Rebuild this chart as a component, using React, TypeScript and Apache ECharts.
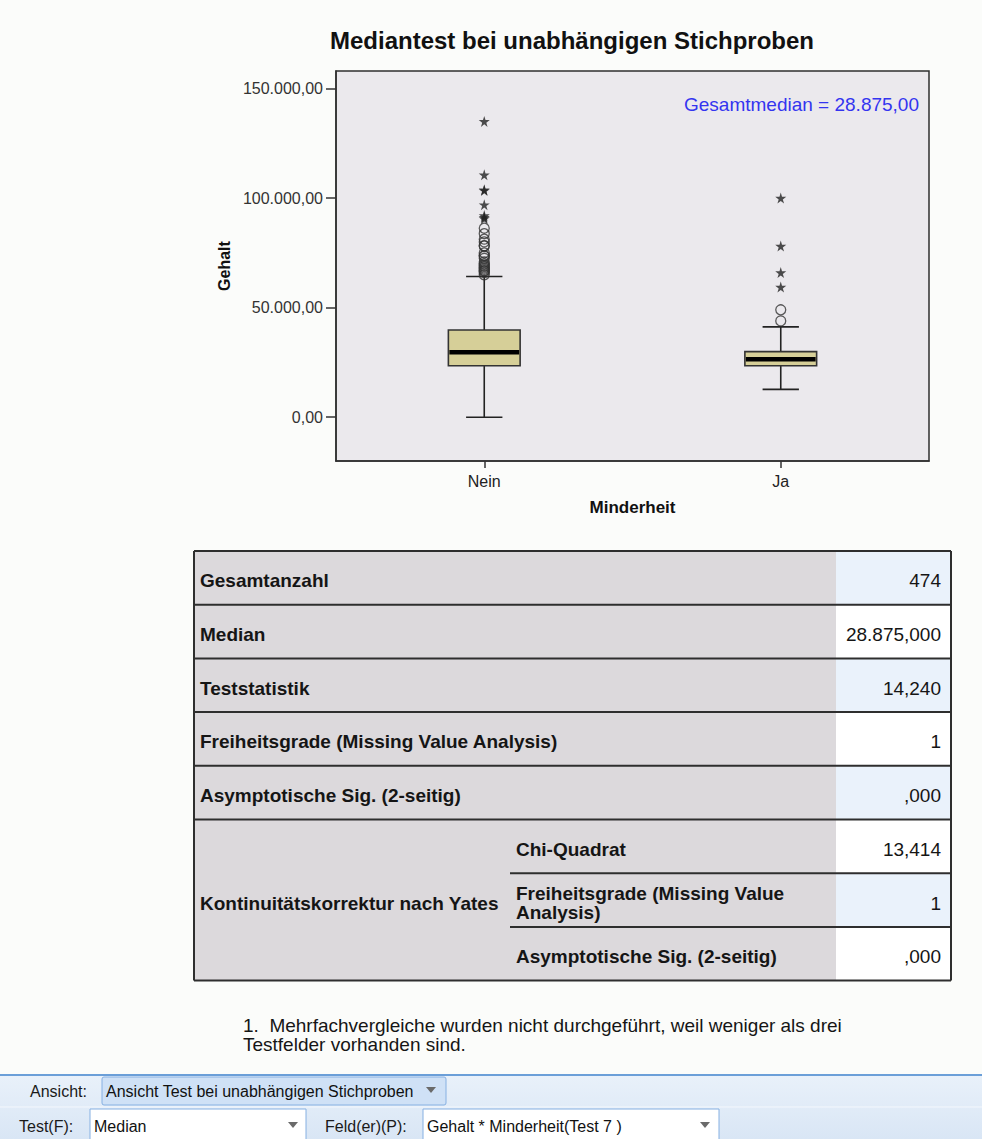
import React, { useEffect, useRef } from 'react';
import * as echarts from 'echarts';

// Box plot values per group (Gehalt by Minderheit)
const categories = ['Nein', 'Ja'];
const lowerWhisker = [0, 12700];
const quartile1 = [23500, 23500];
const medians = [29600, 26400];
const quartile3 = [39800, 29900];
const upperWhisker = [64200, 41200];

// Outliers (circles) and extreme values (stars)
const neinOutliers = [86250, 83750, 81250, 80000, 78250, 78125, 75000, 73750, 73500, 72500, 70875, 70000, 69250, 68750, 68125, 67500, 66875, 66750, 66000, 65000];
const neinExtremes = [135000, 110625, 103750, 103500, 97000, 92000, 91250, 90625];
const jaOutliers = [49000, 43950];
const jaExtremes = [100000, 78125, 66000, 59400];

const yTicks = [0, 50000, 100000, 150000];
const yMin = -20000;
const yMax = 158000;
const overallMedianLabel = 'Gesamtmedian = 28.875,00';

// Summary table
const tableLabels = ['Gesamtanzahl', 'Median', 'Teststatistik', 'Freiheitsgrade (Missing Value Analysis)', 'Asymptotische Sig. (2-seitig)'];
const tableValues = ['474', '28.875,000', '14,240', '1', ',000'];
const yatesLabel = 'Kontinuitätskorrektur nach Yates';
const yatesLabels = ['Chi-Quadrat', 'Freiheitsgrade (Missing Value\nAnalysis)', 'Asymptotische Sig. (2-seitig)'];
const yatesValues = ['13,414', '1', ',000'];
const footnoteLines = ['1.  Mehrfachvergleiche wurden nicht durchgeführt, weil weniger als drei', 'Testfelder vorhanden sind.'];

const FONT = '"Liberation Sans", Arial, Helvetica, sans-serif';
const STAR = 'path://M50,0 L61,35 L98,35 L68,57 L79,91 L50,70 L21,91 L32,57 L2,35 L39,35 Z';

const germanNumber = (v: number) =>
  Math.round(v).toString().replace(/\B(?=(\d{3})+(?!\d))/g, '.') + ',00';

function buildTable(): any[] {
  const els: any[] = [];
  const left = 194;
  const right = 951;
  const valueLeft = 836;
  const subLeft = 510;
  const top = 551;
  const rowH = 53.7;
  const lineColor = '#2e2e2e';
  const labelFill = '#dcd9dc';
  const blue = '#eaf2fb';
  const white = '#ffffff';
  const textColor = '#151515';
  const totalRows = tableLabels.length + yatesLabels.length;
  const bold = `bold 19px ${FONT}`;
  const plain = `19px ${FONT}`;

  els.push({ type: 'rect', shape: { x: left, y: top, width: valueLeft - left, height: rowH * totalRows }, style: { fill: labelFill } });
  for (let i = 0; i < totalRows; i++) {
    els.push({
      type: 'rect',
      shape: { x: valueLeft, y: top + i * rowH, width: right - valueLeft, height: rowH },
      style: { fill: i % 2 === 0 ? blue : white },
    });
  }
  tableLabels.forEach((label, i) => {
    const cy = top + i * rowH + rowH / 2 + 3;
    els.push({ type: 'text', x: left + 6, y: cy, style: { text: label, font: bold, fill: textColor, textVerticalAlign: 'middle' } });
    els.push({ type: 'text', x: right - 10, y: cy, style: { text: tableValues[i], font: plain, fill: textColor, textAlign: 'right', textVerticalAlign: 'middle' } });
  });
  const yTop = top + tableLabels.length * rowH;
  els.push({ type: 'text', x: left + 6, y: yTop + (rowH * yatesLabels.length) / 2 + 3, style: { text: yatesLabel, font: bold, fill: textColor, textVerticalAlign: 'middle' } });
  yatesLabels.forEach((label, i) => {
    const cy = yTop + i * rowH + rowH / 2 + 3;
    els.push({ type: 'text', x: subLeft + 6, y: cy, style: { text: label, font: bold, fill: textColor, textVerticalAlign: 'middle', lineHeight: 19 } });
    els.push({ type: 'text', x: right - 10, y: cy, style: { text: yatesValues[i], font: plain, fill: textColor, textAlign: 'right', textVerticalAlign: 'middle' } });
  });
  // horizontal rules
  for (let i = 0; i <= totalRows; i++) {
    const y = top + i * rowH;
    const inYates = i > tableLabels.length && i < totalRows;
    els.push({ type: 'line', shape: { x1: inYates ? subLeft : left, y1: y, x2: right, y2: y }, style: { stroke: lineColor, lineWidth: 2 } });
  }
  els.push({ type: 'line', shape: { x1: left, y1: top, x2: left, y2: top + rowH * totalRows }, style: { stroke: lineColor, lineWidth: 2 } });
  els.push({ type: 'line', shape: { x1: right, y1: top, x2: right, y2: top + rowH * totalRows }, style: { stroke: lineColor, lineWidth: 2 } });
  return els;
}

function arrow(cx: number, cy: number): any {
  return { type: 'polygon', shape: { points: [[cx - 5, cy - 3], [cx + 5, cy - 3], [cx, cy + 3]] }, style: { fill: '#6a6a6a' } };
}

function buildToolbar(): any[] {
  const els: any[] = [];
  const tf = `16px ${FONT}`;
  els.push({
    type: 'rect', shape: { x: 0, y: 1074, width: 982, height: 65 },
    style: { fill: new echarts.graphic.LinearGradient(0, 0, 0, 1, [{ offset: 0, color: '#e9f1fa' }, { offset: 1, color: '#d9e6f5' }]) },
  });
  els.push({ type: 'line', shape: { x1: 0, y1: 1075, x2: 982, y2: 1075 }, style: { stroke: '#6b9fd8', lineWidth: 2 } });
  els.push({ type: 'line', shape: { x1: 0, y1: 1107, x2: 982, y2: 1107 }, style: { stroke: '#f4f8fd', lineWidth: 1 } });
  els.push({ type: 'text', x: 30, y: 1091, style: { text: 'Ansicht:', font: tf, fill: '#1a1a1a', textVerticalAlign: 'middle' } });
  els.push({ type: 'rect', shape: { x: 102, y: 1077, width: 344, height: 28, r: 2 }, style: { fill: '#cfe1f6', stroke: '#86b0e2', lineWidth: 1 } });
  els.push({ type: 'text', x: 106, y: 1091, style: { text: 'Ansicht Test bei unabhängigen Stichproben', font: tf, fill: '#111', textVerticalAlign: 'middle' } });
  els.push(arrow(431, 1090));
  els.push({ type: 'text', x: 19, y: 1126, style: { text: 'Test(F):', font: tf, fill: '#1a1a1a', textVerticalAlign: 'middle' } });
  els.push({ type: 'rect', shape: { x: 90, y: 1109, width: 216, height: 34 }, style: { fill: '#ffffff', stroke: '#86b0e2', lineWidth: 1 } });
  els.push({ type: 'text', x: 94, y: 1126, style: { text: 'Median', font: tf, fill: '#111', textVerticalAlign: 'middle' } });
  els.push(arrow(293, 1125));
  els.push({ type: 'text', x: 325, y: 1126, style: { text: 'Feld(er)(P):', font: tf, fill: '#1a1a1a', textVerticalAlign: 'middle' } });
  els.push({ type: 'rect', shape: { x: 423, y: 1109, width: 296, height: 34 }, style: { fill: '#ffffff', stroke: '#86b0e2', lineWidth: 1 } });
  els.push({ type: 'text', x: 427, y: 1126, style: { text: 'Gehalt * Minderheit(Test 7 )', font: tf, fill: '#111', textVerticalAlign: 'middle' } });
  els.push(arrow(705, 1125));
  return els;
}

export default function App() {
  const ref = useRef<HTMLDivElement>(null);

  useEffect(() => {
    if (!ref.current) return;
    const chart = echarts.init(ref.current, null, { renderer: 'svg' });

    const boxData = categories.map((_, i) => [i, lowerWhisker[i], quartile1[i], medians[i], quartile3[i], upperWhisker[i]]);
    const circleData = [
      ...neinOutliers.map((v) => [0, v]),
      ...jaOutliers.map((v) => [1, v]),
    ];
    const starData = [
      ...neinExtremes.map((v) => [0, v]),
      ...jaExtremes.map((v) => [1, v]),
    ];

    chart.setOption({
      animation: false,
      backgroundColor: '#fbfcfa',
      textStyle: { fontFamily: FONT },
      grid: {
        left: 336, top: 71, width: 593, height: 390,
        show: true, backgroundColor: '#ebe9ed', borderColor: '#2f2f2f', borderWidth: 1.5,
      },
      xAxis: {
        type: 'category',
        data: categories,
        boundaryGap: true,
        name: 'Minderheit',
        nameLocation: 'middle',
        nameGap: 38,
        nameTextStyle: { fontWeight: 'bold', fontSize: 17, color: '#111', fontFamily: FONT },
        axisLine: { show: true, onZero: false, lineStyle: { color: '#2f2f2f', width: 1.5 } },
        axisTick: { show: true, alignWithLabel: true, length: 7, lineStyle: { color: '#333', width: 1.5 } },
        axisLabel: { fontSize: 16, color: '#222', margin: 12, fontFamily: FONT },
        splitLine: { show: false },
      },
      yAxis: {
        type: 'value',
        min: yMin,
        max: yMax,
        name: 'Gehalt',
        nameLocation: 'middle',
        nameGap: 97,
        nameRotate: 90,
        nameTextStyle: { fontWeight: 'bold', fontSize: 16, color: '#111', fontFamily: FONT },
        axisLine: { show: true, lineStyle: { color: '#2f2f2f', width: 1.5 } },
        axisTick: { show: true, length: 10, customValues: yTicks, lineStyle: { color: '#333', width: 1.5 } },
        axisLabel: { fontSize: 16, color: '#333', margin: 13, customValues: yTicks, formatter: (v: number) => germanNumber(v), fontFamily: FONT },
        splitLine: { show: false },
      },
      series: [
        {
          type: 'custom',
          name: 'Gehalt',
          data: boxData,
          encode: { x: 0, y: [1, 2, 3, 4, 5] },
          z: 2,
          renderItem: (params: any, api: any) => {
            const idx = api.value(0);
            const lo = api.coord([idx, api.value(1)]);
            const q1 = api.coord([idx, api.value(2)]);
            const med = api.coord([idx, api.value(3)]);
            const q3 = api.coord([idx, api.value(4)]);
            const hi = api.coord([idx, api.value(5)]);
            const band = api.size([1, 0])[0];
            const bw = band * 0.242;
            const cw = band * 0.1225;
            const x = lo[0];
            const stroke = { stroke: '#222', lineWidth: 1.6 };
            return {
              type: 'group',
              children: [
                { type: 'line', shape: { x1: x, y1: hi[1], x2: x, y2: q3[1] }, style: stroke },
                { type: 'line', shape: { x1: x, y1: q1[1], x2: x, y2: lo[1] }, style: stroke },
                { type: 'line', shape: { x1: x - cw / 2, y1: hi[1], x2: x + cw / 2, y2: hi[1] }, style: stroke },
                { type: 'line', shape: { x1: x - cw / 2, y1: lo[1], x2: x + cw / 2, y2: lo[1] }, style: stroke },
                { type: 'rect', shape: { x: x - bw / 2, y: q3[1], width: bw, height: q1[1] - q3[1] }, style: { fill: '#d6cf98', stroke: '#333', lineWidth: 1.6 } },
                { type: 'line', shape: { x1: x - bw / 2 + 1, y1: med[1], x2: x + bw / 2 - 1, y2: med[1] }, style: { stroke: '#000', lineWidth: 4.5 } },
              ],
            };
          },
        },
        {
          type: 'scatter',
          name: 'Ausreißer',
          data: circleData,
          symbol: 'circle',
          symbolSize: 10,
          z: 3,
          itemStyle: { color: 'rgba(0,0,0,0)', borderColor: '#333', borderWidth: 1.3 },
        },
        {
          type: 'scatter',
          name: 'Extremwerte',
          data: starData,
          symbol: STAR,
          symbolSize: 11,
          z: 4,
          itemStyle: { color: '#222' },
        },
      ],
      graphic: [
        {
          type: 'text', x: 572, y: 40,
          style: { text: 'Mediantest bei unabhängigen Stichproben', font: `bold 24px ${FONT}`, fill: '#111', textAlign: 'center', textVerticalAlign: 'middle' },
        },
        {
          type: 'text', x: 919, y: 104,
          style: { text: overallMedianLabel, font: `19px ${FONT}`, fill: '#3434f0', textAlign: 'right', textVerticalAlign: 'middle' },
        },
        ...buildTable(),
        ...footnoteLines.map((line, i) => ({
          type: 'text', x: 243, y: 1025 + i * 19,
          style: { text: line, font: `19px ${FONT}`, fill: '#151515', textVerticalAlign: 'middle', lineHeight: 19 },
        })),
        ...buildToolbar(),
      ],
    });

    return () => chart.dispose();
  }, []);

  return <div ref={ref} style={{ position: 'absolute', left: 0, top: 0, width: 982, height: 1139 }} />;
}
